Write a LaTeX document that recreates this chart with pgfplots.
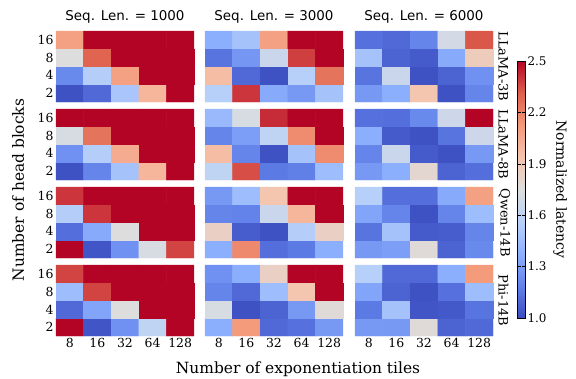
\documentclass[border=0pt]{standalone}
\usepackage{pgfplots}
\pgfplotsset{compat=1.18}
\usepackage{fontspec}
\setmainfont{DejaVu Serif}
\setsansfont{DejaVu Sans}
\pgfplotsset{
  colormap={coolwarm}{rgb255=(59,76,192) rgb255=(98,130,234) rgb255=(141,176,254) rgb255=(184,208,249) rgb255=(221,221,221) rgb255=(245,196,173) rgb255=(244,154,123) rgb255=(222,96,77) rgb255=(180,4,38)},
  hm/.style={
    scale only axis, width=138bp, height=71bp, anchor=north west, clip=false,
    colormap name=coolwarm, point meta min=1, point meta max=2.5,
    xmin=-0.5, xmax=4.5, ymin=-0.5, ymax=3.5,
    xtick={0,1,2,3,4}, xticklabels={8,16,32,64,128},
    ytick={0,1,2,3}, yticklabels={2,4,8,16},
    major tick length=0pt, tick style={draw=none},
    axis line style={draw=none},
    /pgf/number format/assume math mode=true,
    tick label style={font=\fontsize{12.5}{14}\selectfont},
    title style={font=\sffamily\fontsize{13.5}{15}\selectfont, yshift=-2bp},
    xticklabel style={yshift=1bp},
    yticklabel style={xshift=1bp},
  },
  hmp/.style={matrix plot*, mesh/cols=5, point meta=explicit, shader=flat corner},
  nox/.style={xticklabels={}},
  noy/.style={yticklabels={}},
}
\newcommand{\rowlab}[1]{\node[rotate=-90, anchor=south, font=\fontsize{13}{15}\selectfont] at ([xshift=2bp]rel axis cs:1,0.5) {#1};}
\begin{document}
\begin{tikzpicture}
\useasboundingbox (0bp,0bp) rectangle (576bp,-379bp);
% ---------- Row 1: LLaMA-3B ----------
\begin{axis}[hm, nox, at={(56bp,-31bp)}, title={Seq. Len. = 1000}]
\addplot[hmp] table[meta=c] {
x y c
0 0 1.02
1 0 1.10
2 0 1.50
3 0 2.00
4 0 2.50
0 1 1.22
1 1 1.55
2 1 2.10
3 1 2.50
4 1 2.50
0 2 1.75
1 2 2.30
2 2 2.50
3 2 2.50
4 2 2.50
0 3 2.10
1 3 2.50
2 3 2.50
3 3 2.50
4 3 2.50
};
\end{axis}
\begin{axis}[hm, nox, noy, at={(205bp,-31bp)}, title={Seq. Len. = 3000}]
\addplot[hmp] table[meta=c] {
x y c
0 0 1.56
1 0 2.40
2 0 1.35
3 0 1.28
4 0 1.48
0 1 1.97
1 1 1.10
2 1 1.02
3 1 1.56
4 1 2.25
0 2 1.14
1 2 1.27
2 2 1.65
3 2 2.38
4 2 2.50
0 3 1.37
1 3 1.48
2 3 2.10
3 3 2.50
4 3 2.50
};
\end{axis}
\begin{axis}[hm, nox, noy, at={(355bp,-31bp)}, title={Seq. Len. = 6000},
  colorbar,
  colorbar style={
    at={(parent axis.north east)}, anchor=north west,
    xshift=16bp, yshift=-30bp,
    scale only axis, width=7.5bp, height=257bp,
    ytick={1,1.3,1.6,1.9,2.2,2.5},
    yticklabel style={font=\fontsize{12}{13}\selectfont, xshift=-1bp, /pgf/number format/.cd, fixed, fixed zerofill, precision=1, assume math mode=true},
    major tick length=3bp, tick style={draw=black, thin},
    axis line style={draw=black, thin},
    ylabel={Normalized latency},
    ylabel style={rotate=180, font=\fontsize{14}{16}\selectfont},
  }]
\addplot[hmp] table[meta=c] {
x y c
0 0 1.28
1 0 1.37
2 0 1.93
3 0 1.02
4 0 1.20
0 1 1.14
1 1 1.65
2 1 1.02
3 1 1.08
4 1 1.25
0 2 1.48
1 2 1.08
2 2 1.05
3 2 1.35
4 2 1.88
0 3 1.13
1 3 1.10
2 3 1.20
3 3 1.70
4 3 2.33
};
\rowlab{LLaMA-3B}
\end{axis}
% ---------- Row 2: LLaMA-8B ----------
\begin{axis}[hm, nox, at={(56bp,-109bp)}]
\addplot[hmp] table[meta=c] {
x y c
0 0 1.02
1 0 1.20
2 0 1.48
3 0 2.00
4 0 2.50
0 1 1.25
1 1 1.55
2 1 2.05
3 1 2.50
4 1 2.50
0 2 1.72
1 2 2.25
2 2 2.50
3 2 2.50
4 2 2.50
0 3 2.50
1 3 2.50
2 3 2.50
3 3 2.50
4 3 2.50
};
\end{axis}
\begin{axis}[hm, nox, noy, at={(205bp,-109bp)}]
\addplot[hmp] table[meta=c] {
x y c
0 0 1.60
1 0 2.35
2 0 1.16
3 0 1.18
4 0 1.45
0 1 1.97
1 1 1.20
2 1 1.02
3 1 1.48
4 1 2.17
0 2 1.20
1 2 1.30
2 2 1.60
3 2 2.17
4 2 2.50
0 3 1.43
1 3 1.72
2 3 2.42
3 3 2.50
4 3 2.50
};
\end{axis}
\begin{axis}[hm, nox, noy, at={(355bp,-109bp)}]
\addplot[hmp] table[meta=c] {
x y c
0 0 1.28
1 0 1.37
2 0 1.80
3 0 1.08
4 0 1.12
0 1 1.20
1 1 1.65
2 1 1.05
3 1 1.02
4 1 1.28
0 2 1.37
1 2 1.05
2 2 1.02
3 2 1.14
4 2 1.67
0 3 1.13
1 3 1.12
2 3 1.22
3 3 1.67
4 3 2.50
};
\rowlab{LLaMA-8B}
\end{axis}
% ---------- Row 3: Qwen-14B ----------
\begin{axis}[hm, nox, at={(56bp,-187bp)}]
\addplot[hmp] table[meta=c] {
x y c
0 0 2.50
1 0 1.03
2 0 1.25
3 0 1.72
4 0 2.37
0 1 1.12
1 1 1.35
2 1 1.75
3 1 2.50
4 1 2.50
0 2 1.55
1 2 2.40
2 2 2.50
3 2 2.50
4 2 2.50
0 3 2.40
1 3 2.50
2 3 2.50
3 3 2.50
4 3 2.50
};
\end{axis}
\begin{axis}[hm, nox, noy, at={(205bp,-187bp)}]
\addplot[hmp] table[meta=c] {
x y c
0 0 1.37
1 0 2.18
2 0 1.12
3 0 1.16
4 0 1.37
0 1 1.85
1 1 1.06
2 1 1.02
3 1 1.55
4 1 1.85
0 2 1.20
1 2 1.19
2 2 1.65
3 2 2.00
4 2 2.50
0 3 1.28
1 3 1.45
2 3 1.93
3 3 2.50
4 3 2.50
};
\end{axis}
\begin{axis}[hm, nox, noy, at={(355bp,-187bp)}]
\addplot[hmp] table[meta=c] {
x y c
0 0 1.28
1 0 1.30
2 0 1.77
3 0 1.08
4 0 1.22
0 1 1.14
1 1 1.48
2 1 1.05
3 1 1.06
4 1 1.20
0 2 1.33
1 2 1.20
2 2 1.02
3 2 1.20
4 2 1.45
0 3 1.56
1 3 1.12
2 3 1.12
3 3 1.35
4 3 2.10
};
\rowlab{Qwen-14B}
\end{axis}
% ---------- Row 4: Phi-14B ----------
\begin{axis}[hm, at={(56bp,-265bp)}]
\addplot[hmp] table[meta=c] {
x y c
0 0 2.50
1 0 1.03
2 0 1.25
3 0 1.60
4 0 2.50
0 1 1.10
1 1 1.33
2 1 1.75
3 1 2.50
4 1 2.50
0 2 1.45
1 2 2.37
2 2 2.50
3 2 2.50
4 2 2.50
0 3 2.37
1 3 2.50
2 3 2.50
3 3 2.50
4 3 2.50
};
\end{axis}
\begin{axis}[hm, noy, at={(205bp,-265bp)}]
\addplot[hmp] table[meta=c] {
x y c
0 0 1.37
1 0 2.12
2 0 1.10
3 0 1.13
4 0 1.28
0 1 1.72
1 1 1.02
2 1 1.08
3 1 1.28
4 1 1.77
0 2 1.20
1 2 1.10
2 2 1.45
3 2 1.93
4 2 2.50
0 3 1.25
1 3 1.37
2 3 1.85
3 3 2.50
4 3 2.50
};
\end{axis}
\begin{axis}[hm, noy, at={(355bp,-265bp)}]
\addplot[hmp] table[meta=c] {
x y c
0 0 1.28
1 0 1.28
2 0 1.77
3 0 1.08
4 0 1.10
0 1 1.16
1 1 1.48
2 1 1.03
3 1 1.04
4 1 1.14
0 2 1.33
1 2 1.08
2 2 1.02
3 2 1.13
4 2 1.45
0 3 1.56
1 3 1.10
2 3 1.10
3 3 1.37
4 3 2.12
};
\rowlab{Phi-14B}
\end{axis}
% ---------- Shared labels ----------
\node[rotate=90, font=\fontsize{15.5}{17}\selectfont] at (18bp,-190bp) {Number of head blocks};
\node[font=\fontsize{15.5}{17}\selectfont] at (298bp,-369bp) {Number of exponentiation tiles};
\end{tikzpicture}
\end{document}
